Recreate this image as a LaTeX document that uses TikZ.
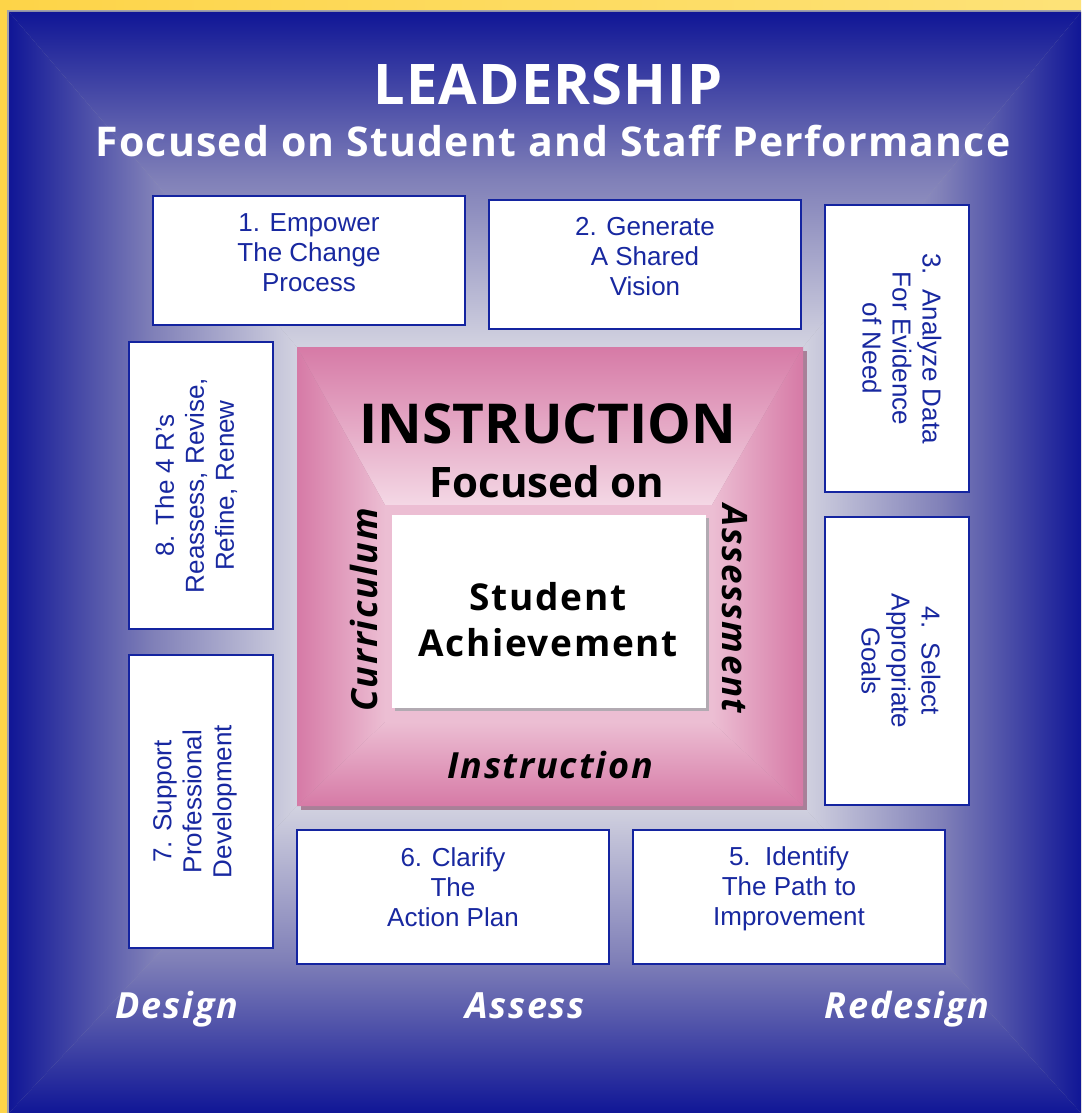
\documentclass[tikz,border=0pt]{standalone}
\usepackage{fontspec}
\setmainfont{Liberation Sans}
\newfontfamily\headfont{Open Sans}
\usetikzlibrary{positioning}
\definecolor{frameyellow}{RGB}{253,212,72}
\definecolor{paleyellow}{RGB}{253,226,120}
\definecolor{framegray}{RGB}{160,160,170}
\definecolor{panelblue}{RGB}{16,22,150}
\definecolor{midblue}{RGB}{128,128,184}
\definecolor{haze}{RGB}{210,210,224}
\definecolor{rose}{RGB}{214,122,166}
\definecolor{blush}{RGB}{236,190,211}
\definecolor{glow}{RGB}{244,216,229}
\definecolor{roseshadow}{RGB}{168,128,152}
\definecolor{boxshadow}{RGB}{178,170,178}
\definecolor{edgeblue}{RGB}{20,36,160}
\definecolor{inkblue}{RGB}{24,40,160}

\begin{document}
\begin{tikzpicture}[x=1pt, y=-1pt,
    stepbox/.style={draw=edgeblue, line width=2pt, fill=white, inner sep=0pt},
    steptext/.style={text=inkblue, align=center, inner sep=0pt,
      font=\fontsize{26}{30}\selectfont},
    whitehead/.style={text=white, inner sep=0pt, anchor=base},
    blackhead/.style={text=black, inner sep=0pt, anchor=base},
    phase/.style={text=white, inner sep=0pt, anchor=base,
      font=\headfont\bfseries\itshape\fontsize{36}{40}\selectfont\addfontfeatures{LetterSpace=5}}]
      \useasboundingbox (0, 0) rectangle (1081, 1113);

      % frame and blue panel
      \shade[left color=frameyellow, right color=paleyellow] (0, 0) rectangle (1081, 1113);
      \fill[framegray] (7, 10) rectangle (1081, 1113);
      \shade[top color=panelblue, bottom color=haze, middle color=midblue]
        (9, 12) -- (1081, 12) -- (803, 347) -- (297, 347) -- cycle;
      \shade[top color=haze, bottom color=panelblue, middle color=midblue]
        (9, 1113) -- (1081, 1113) -- (803, 806) -- (297, 806) -- cycle;
      \shade[left color=panelblue, right color=haze, middle color=midblue]
        (9, 12) -- (297, 347) -- (297, 806) -- (9, 1113) -- cycle;
      \shade[left color=haze, right color=panelblue, middle color=midblue]
        (1081, 12) -- (803, 347) -- (803, 806) -- (1081, 1113) -- cycle;

      % title
      \node[whitehead, font=\headfont\bfseries\fontsize{56}{60}\selectfont\addfontfeatures{LetterSpace=2}]
        (lead) at (548, 105) {LEADERSHIP};
      \node[whitehead, font=\headfont\bfseries\fontsize{41}{46}\selectfont\addfontfeatures{LetterSpace=3}]
        (perf) at (553, 157) {Focused on Student and Staff Performance};

      % instruction square
      \fill[roseshadow] (301, 351) rectangle (807, 810);
      \shade[top color=rose, bottom color=glow]
        (297, 347) -- (803, 347) -- (712, 505) -- (385, 505) -- cycle;
      \shade[top color=blush, bottom color=rose]
        (297, 806) -- (803, 806) -- (712, 722) -- (385, 722) -- cycle;
      \shade[left color=rose, right color=blush]
        (297, 347) -- (385, 505) -- (385, 722) -- (297, 806) -- cycle;
      \shade[left color=blush, right color=rose]
        (803, 347) -- (712, 505) -- (712, 722) -- (803, 806) -- cycle;
      \fill[blush] (385, 505) rectangle (712, 722);
      \fill[boxshadow] (395, 518) rectangle (709, 711);
      \fill[white] (392, 515) rectangle (706, 708);

      \node[blackhead, font=\headfont\bfseries\fontsize{55}{60}\selectfont]
        (instr) at (548, 443) {INSTRUCTION};
      \node[blackhead, font=\headfont\bfseries\fontsize{42}{46}\selectfont]
        (focus) at (547, 497) {Focused on};
      \node[text=black, align=center, inner sep=0pt,
        font=\headfont\bfseries\fontsize{37}{46}\selectfont\addfontfeatures{LetterSpace=4.5}]
        (achieve) at (548, 620) {Student\\Achievement};
      \node[text=black, inner sep=0pt, rotate=90,
        font=\headfont\bfseries\itshape\fontsize{36}{40}\selectfont\addfontfeatures{LetterSpace=4.5}]
        (curr) at (364, 610) {Curriculum};
      \node[text=black, inner sep=0pt, rotate=-90,
        font=\headfont\bfseries\itshape\fontsize{35}{40}\selectfont\addfontfeatures{LetterSpace=4.5}]
        (assess) at (735, 609) {Assessment};
      \node[blackhead, font=\headfont\bfseries\itshape\fontsize{36}{40}\selectfont\addfontfeatures{LetterSpace=5}]
        (inst) at (550, 778) {Instruction};

      % the eight steps
      \node[stepbox, minimum width=312, minimum height=129] (b1) at (309, 260.5) {};
      \node[stepbox, minimum width=312, minimum height=129] (b2) at (645, 264.5) {};
      \node[stepbox, minimum width=287, minimum height=144, rotate=-90] (b3) at (897, 348.5) {};
      \node[stepbox, minimum width=288, minimum height=144, rotate=-90] (b4) at (897, 661) {};
      \node[stepbox, minimum width=312, minimum height=134] (b5) at (789, 897) {};
      \node[stepbox, minimum width=312, minimum height=134] (b6) at (453, 897) {};
      \node[stepbox, minimum width=293, minimum height=144, rotate=90] (b7) at (201, 801.5) {};
      \node[stepbox, minimum width=287, minimum height=144, rotate=90] (b8) at (201, 485.5) {};

      \node[steptext] (t1) at ([yshift=8pt]b1.center) {1. Empower\\The Change\\Process};
      \node[steptext] (t2) at ([yshift=8pt]b2.center) {2. Generate\\A Shared\\Vision};
      \node[steptext, rotate=-90] (t3) at ([xshift=5pt]b3.center) {3.\ \ Analyze Data\\For Evidence\\of Need};
      \node[steptext, rotate=-90] (t4) at ([xshift=4pt]b4.center) {4.\ \ Select\\Appropriate\\Goals};
      \node[steptext] (t5) at ([yshift=8pt]b5.center) {5.\ \ Identify\\The Path to\\Improvement};
      \node[steptext] (t6) at ([yshift=10pt]b6.center) {6. Clarify\\The\\Action Plan};
      \node[steptext, rotate=90] (t7) at ([xshift=-6pt]b7.center) {7. Support\\Professional\\Development};
      \node[steptext, rotate=90] (t8) at ([xshift=-5pt]b8.center) {8. The 4 R’s\\Reassess, Revise,\\Refine, Renew};

      % phases along the bottom
      \node[phase] (design) at (177, 1018) {Design};
      \node[phase] (assessph) at (525, 1018) {Assess};
      \node[phase] (redesign) at (907, 1018) {Redesign};
    \end{tikzpicture}
\end{document}
